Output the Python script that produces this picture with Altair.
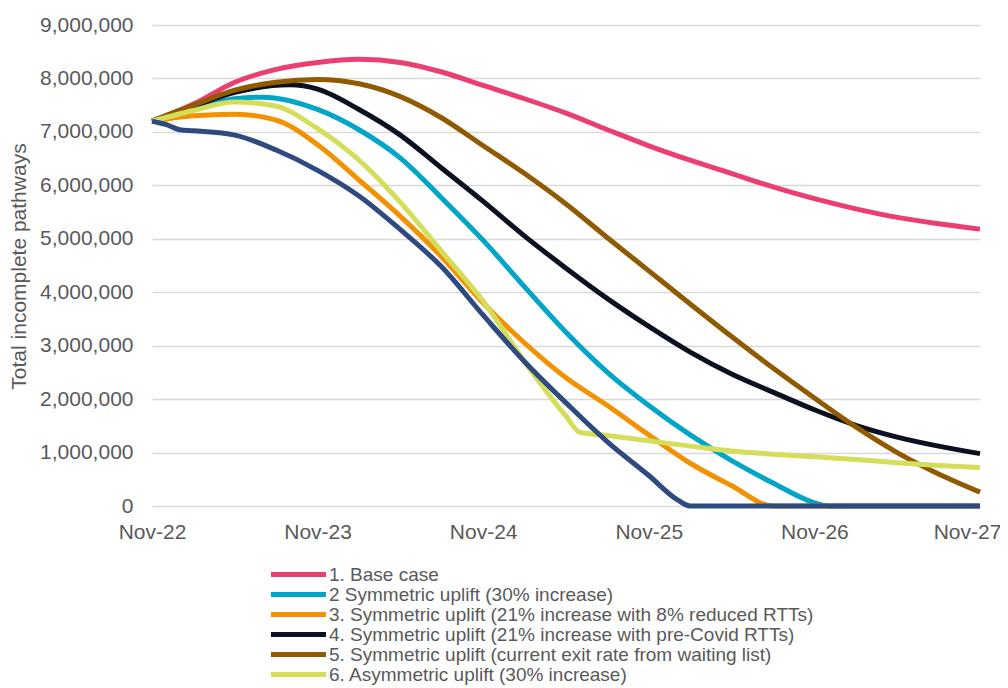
import json
import altair as alt
import pandas as pd

# ---- data (values in millions of incomplete pathways) ----
series_names = [
    "1. Base case",
    "2 Symmetric uplift (30% increase)",
    "3. Symmetric uplift (21% increase with 8% reduced RTTs)",
    "4. Symmetric uplift (21% increase with pre-Covid RTTs)",
    "5. Symmetric uplift (current exit rate from waiting list)",
    "6. Asymmetric uplift (30% increase)",
    "7. Further scenario",
]
series_colors = ["#EA3F70", "#00A5C7", "#F39200", "#0B1121", "#8F5A00", "#D4DE5B", "#2E4A7F"]

quarter_months = list(range(0, 61, 3))

base_case = [7.2, 7.52, 7.93, 8.17, 8.3, 8.36, 8.3, 8.12, 7.87, 7.62, 7.35,
             7.04, 6.74, 6.47, 6.22, 5.97, 5.75, 5.56, 5.40, 5.28, 5.18]

sym30_months = [0, 3, 6, 8, 12] + list(range(15, 49, 3)) + [49, 54, 60]
sym30 = [7.2, 7.45, 7.62, 7.65, 7.42, 7.04, 6.51, 5.76, 4.97, 4.10, 3.25,
         2.50, 1.88, 1.33, 0.85, 0.43, 0.06, 0, 0, 0]

sym21_8_months = list(range(0, 46, 3)) + [48, 54, 60]
sym21_8 = [7.2, 7.3, 7.33, 7.22, 6.76, 6.1, 5.42, 4.66, 3.8, 3.05, 2.4,
           1.88, 1.33, 0.8, 0.38, 0.0, 0, 0, 0]

sym21_pre_months = [0, 3, 6, 10] + list(range(12, 61, 3))
sym21_pre = [7.2, 7.48, 7.74, 7.88, 7.8, 7.42, 6.94, 6.32, 5.7, 5.05, 4.45,
             3.88, 3.36, 2.88, 2.47, 2.13, 1.8, 1.51, 1.29, 1.12, 0.98]

sym_exit = [7.2, 7.5, 7.78, 7.93, 7.98, 7.9, 7.66, 7.26, 6.74, 6.22, 5.65,
            5.02, 4.4, 3.78, 3.17, 2.58, 2.02, 1.48, 1.0, 0.6, 0.26]

asym30_months = list(range(0, 31, 3)) + [31] + list(range(33, 61, 3))
asym30 = [7.2, 7.4, 7.56, 7.48, 7.06, 6.47, 5.68, 4.76, 3.83, 2.70, 1.68,
          1.38, 1.32, 1.22, 1.12, 1.03, 0.97, 0.92, 0.87, 0.81, 0.76, 0.72]

other_months = [0, 1, 2, 3, 6, 9, 12, 15, 18, 21, 24, 27, 30, 33, 36, 38, 39, 42, 48, 54, 60]
other = [7.2, 7.14, 7.04, 7.02, 6.94, 6.66, 6.28, 5.8, 5.17, 4.47, 3.57, 2.7,
         1.93, 1.2, 0.57, 0.13, 0, 0, 0, 0, 0]

tick_months = [0, 12, 24, 36, 48, 60]
tick_labels = ["Nov-22", "Nov-23", "Nov-24", "Nov-25", "Nov-26", "Nov-27"]
y_ticks = [0, 1000000, 2000000, 3000000, 4000000, 5000000, 6000000, 7000000, 8000000, 9000000]

series_data = [
    (quarter_months, base_case),
    (sym30_months, sym30),
    (sym21_8_months, sym21_8),
    (sym21_pre_months, sym21_pre),
    (quarter_months, sym_exit),
    (asym30_months, asym30),
    (other_months, other),
]

rows = []
for order, (name, (months, vals)) in enumerate(zip(series_names, series_data)):
    for m, v in zip(months, vals):
        rows.append({"series": name, "order": order, "month": m, "value": v * 1_000_000})
df = pd.DataFrame(rows)

label_expr = f"{json.dumps(tick_labels)}[round(datum.value / 12)]"

chart = alt.Chart(df).mark_line(
    strokeWidth=5, interpolate="monotone", strokeJoin="round"
).encode(
    x=alt.X("month:Q",
            scale=alt.Scale(domain=[0, 60], nice=False, zero=False),
            axis=alt.Axis(values=tick_months, labelExpr=label_expr, title=None,
                          grid=False, domain=False, ticks=False, labelFlush=False,
                          labelFontSize=21, labelColor="#595959", labelPadding=15,
                          labelFont="Liberation Sans",
                          labelOffset={"condition": {"test": "datum.value == 60", "value": -13},
                                       "value": 0})),
    y=alt.Y("value:Q",
            scale=alt.Scale(domain=[0, 9000000], nice=False),
            axis=alt.Axis(values=y_ticks, format=",d", title="Total incomplete pathways",
                          grid=True, gridColor="#D9D9D9", gridWidth=1.5,
                          domain=False, ticks=False, labelFlush=False,
                          labelFontSize=21, labelColor="#595959", labelPadding=19,
                          labelFont="Liberation Sans",
                          titleFont="Liberation Sans", titleFontSize=21,
                          titleFontWeight="normal", titleColor="#595959",
                          titleAngle=270, titleX=-133, titleY=241,
                          titleAlign="center", titleBaseline="middle")),
    color=alt.Color("series:N",
                    scale=alt.Scale(domain=series_names, range=series_colors),
                    legend=alt.Legend(values=series_names[:6], title=None,
                                      orient="none", legendX=137, legendY=540,
                                      direction="vertical",
                                      symbolType="M-5,0H5", symbolSize=121,
                                      symbolStrokeWidth=5,
                                      labelFontSize=19, labelColor="#595959",
                                      labelFont="Liberation Sans",
                                      labelOffset=21, rowPadding=-1, padding=0,
                                      labelLimit=0)),
    order=alt.Order("order:Q"),
    detail="series:N",
).properties(
    width=828, height=481,
    autosize=alt.AutoSizeParams(type="none"),
    padding={"left": 144, "top": 17, "right": 20, "bottom": 180},
).configure_view(stroke=None)

chart.save("out.html", embed_options={"renderer": "svg", "actions": False})
